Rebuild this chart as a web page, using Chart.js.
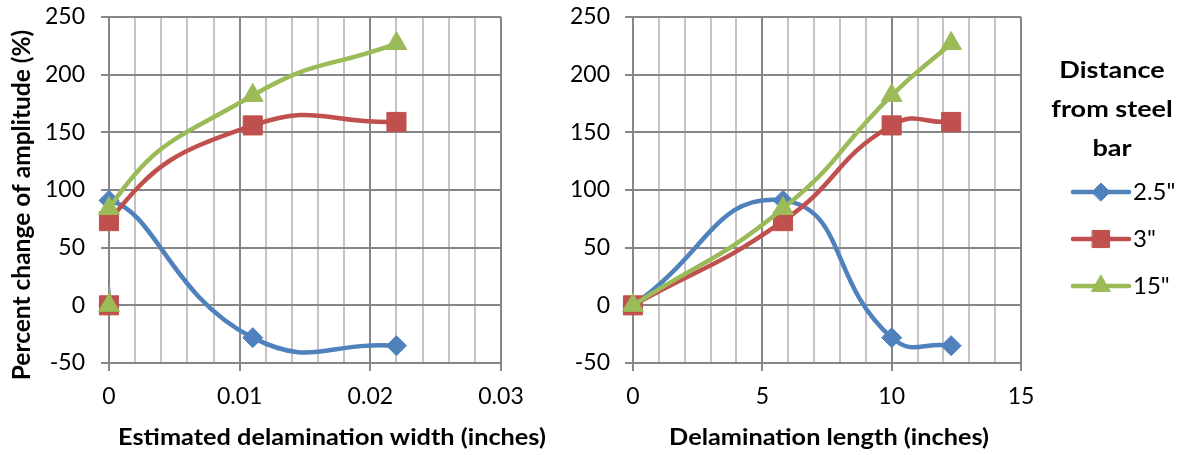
<!DOCTYPE html>
<html>
<head>
<meta charset="utf-8">
<script src="https://cdn.jsdelivr.net/npm/chart.js@4/dist/chart.umd.min.js"></script>
<style>
  html, body { margin: 0; padding: 0; background: #fff; }
  #wrap { position: relative; width: 1182px; height: 455px; }
  canvas { position: absolute; top: 0; }
</style>
</head>
<body>
<div id="wrap">
  <canvas id="chartWidth" width="560" height="455" style="left:0"></canvas>
  <canvas id="chartLength" width="622" height="455" style="left:560px"></canvas>
</div>
<script>
// delamination size of each test slab
const delamWidth = [0, 0, 0.011, 0.022];
const delamLength = [0, 5.8, 10, 12.3];

// percent change of amplitude, one array per bar distance
const seriesNames = ['2.5"', '3"', '15"'];
const amp25 = [0, 91, -28, -35];
const amp3 = [0, 73, 156, 159];
const amp15 = [0, 84, 182, 227];

const widthTicks = [0, 0.01, 0.02, 0.03];
const lengthTicks = [0, 5, 10, 15];
const ampTicks = [-50, 0, 50, 100, 150, 200, 250];

const legendTitle = ['Distance', 'from steel', 'bar'];

const styles = [
  { color: '#4F81BD', pointStyle: 'rectRot', radius: 10 },
  { color: '#C0504D', pointStyle: 'rect', radius: 13.5 },
  { color: '#9BBB59', pointStyle: 'triangle', radius: 12 }
];

const MAJOR = '#868686';
const MINOR = '#c4c4c4';

Chart.defaults.font.family = 'Lato';
Chart.defaults.font.size = 23;
Chart.defaults.color = '#000';

function isMajor(v, majors) {
  return majors.some(m => Math.abs(v - m) < 1e-9);
}

// each series gets a clipped smooth line plus an unclipped marker set
function buildDatasets(xs) {
  const out = [];
  [amp25, amp3, amp15].forEach((ys, i) => {
    const pts = xs.map((x, k) => ({ x: x, y: ys[k] }));
    const s = styles[i];
    out.push({
      label: seriesNames[i], data: pts, showLine: true,
      borderColor: s.color, borderWidth: 4.5, tension: 0.5,
      pointRadius: 0, order: 10 - 2 * i, isLine: true
    });
    out.push({
      label: seriesNames[i], data: pts, showLine: false,
      pointStyle: s.pointStyle, pointRadius: s.radius, pointHoverRadius: s.radius,
      backgroundColor: s.color, borderColor: s.color, borderWidth: 1,
      clip: false, order: 9 - 2 * i
    });
  });
  return out;
}

function xScale(majors, step) {
  return {
    type: 'linear', min: majors[0], max: majors[majors.length - 1],
    afterFit: s => { s.height = 92; s.paddingLeft = 0; s.paddingRight = 0; },
    ticks: {
      stepSize: step, autoSkip: false, maxRotation: 0, padding: 12,
      callback: v => isMajor(v, majors) ? String(majors.find(m => Math.abs(v - m) < 1e-9)) : ''
    },
    grid: {
      lineWidth: 2, tickLength: 8,
      color: c => isMajor(c.tick.value, majors) ? MAJOR : MINOR,
      tickColor: c => isMajor(c.tick.value, majors) ? MAJOR : 'rgba(0,0,0,0)'
    },
    border: { color: MAJOR, width: 2 }
  };
}

function yScale(width, pad) {
  return {
    type: 'linear', min: ampTicks[0], max: ampTicks[ampTicks.length - 1],
    afterFit: s => { s.width = width; s.paddingTop = 0; s.paddingBottom = 0; },
    ticks: { stepSize: 50, padding: pad, callback: v => ampTicks.includes(v) ? String(v) : '' },
    grid: { lineWidth: 2, tickLength: 8, color: MAJOR, tickColor: MAJOR },
    border: { color: MAJOR, width: 2 }
  };
}

// axis titles drawn at fixed spots (sx widens the glyphs a little)
const freeTitles = {
  id: 'freeTitles',
  afterDraw(chart, args, opts) {
    const ctx = chart.ctx;
    ctx.save();
    ctx.fillStyle = '#000';
    ctx.textAlign = 'center';
    ctx.textBaseline = 'middle';
    (opts.items || []).forEach(t => {
      ctx.save();
      ctx.font = 'bold ' + t.size + 'px Lato';
      ctx.translate(t.x, t.y);
      if (t.rotate) ctx.rotate(t.rotate);
      ctx.scale(t.sx || 1, 1);
      ctx.fillText(t.text, 0, 0);
      ctx.restore();
    });
    ctx.restore();
  }
};

// legend with line + marker samples
const seriesLegend = {
  id: 'seriesLegend',
  afterDraw(chart, args, opts) {
    if (!opts.show) return;
    const ctx = chart.ctx;
    ctx.save();
    ctx.fillStyle = '#000';
    ctx.font = 'bold 23.5px Lato';
    ctx.textAlign = 'center';
    ctx.textBaseline = 'middle';
    legendTitle.forEach((line, i) => {
      ctx.save();
      ctx.translate(opts.cx, opts.titleY + i * opts.titleStep);
      ctx.scale(1.15, 1);
      ctx.fillText(line, 0, 0);
      ctx.restore();
    });

    const lines = chart.data.datasets.filter(d => d.isLine);
    lines.forEach((d, i) => {
      const y = opts.itemY + i * opts.itemStep;
      const s = styles[i];
      ctx.strokeStyle = s.color;
      ctx.fillStyle = s.color;
      ctx.lineWidth = 4.5;
      ctx.lineCap = 'round';
      ctx.beginPath();
      ctx.moveTo(opts.lineX0, y);
      ctx.lineTo(opts.lineX1, y);
      ctx.stroke();
      ctx.lineWidth = 1;
      Chart.helpers.drawPoint(ctx, { pointStyle: s.pointStyle, radius: s.radius * 0.9, borderWidth: 1, rotation: 0 },
        (opts.lineX0 + opts.lineX1) / 2, y);
      ctx.fillStyle = '#000';
      ctx.font = '24px Lato';
      ctx.textAlign = 'left';
      ctx.fillText(d.label, opts.lineX1 + 4, y);
    });
    ctx.restore();
  }
};

new Chart(document.getElementById('chartWidth'), {
  type: 'scatter',
  data: { datasets: buildDatasets(delamWidth) },
  options: {
    responsive: false, animation: false,
    elements: { line: { capBezierPoints: false } },
    layout: { padding: { top: 17, right: 59, left: 0, bottom: 0 } },
    scales: { x: xScale(widthTicks, 0.002), y: yScale(109, 16) },
    plugins: {
      legend: { display: false }, tooltip: { enabled: false },
      freeTitles: { items: [
        { text: 'Estimated delamination width (inches)', x: 332, y: 438, size: 23, sx: 1.1 },
        { text: 'Percent change of amplitude (%)', x: 22, y: 205, size: 24.5, rotate: -Math.PI / 2 }
      ] },
      seriesLegend: { show: false }
    }
  },
  plugins: [freeTitles, seriesLegend]
});

new Chart(document.getElementById('chartLength'), {
  type: 'scatter',
  data: { datasets: buildDatasets(delamLength) },
  options: {
    responsive: false, animation: false,
    elements: { line: { capBezierPoints: false } },
    layout: { padding: { top: 17, right: 161, left: 0, bottom: 0 } },
    scales: { x: xScale(lengthTicks, 1), y: yScale(73, 15) },
    plugins: {
      legend: { display: false }, tooltip: { enabled: false },
      freeTitles: { items: [
        { text: 'Delamination length (inches)', x: 269, y: 438, size: 23, sx: 1.1 }
      ] },
      seriesLegend: {
        show: true, cx: 552, titleY: 70, titleStep: 39,
        itemY: 192, itemStep: 47, lineX0: 513, lineX1: 569
      }
    }
  },
  plugins: [freeTitles, seriesLegend]
});
</script>
</body>
</html>
